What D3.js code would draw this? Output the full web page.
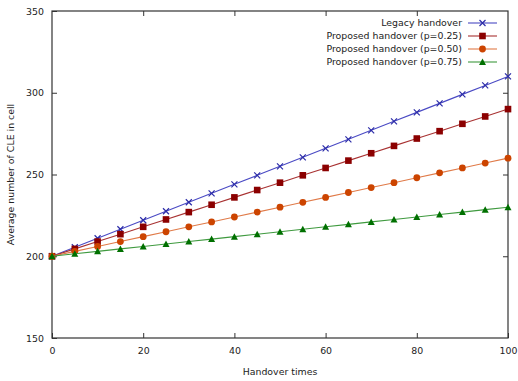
<!DOCTYPE html>
<html>
<head>
<meta charset="utf-8">
<script src="https://cdn.jsdelivr.net/npm/d3@7"></script>
<style>
  body { margin: 0; background: #fff; }
  text { font-family: "DejaVu Sans", sans-serif; font-size: 9.4px; fill: #222; }
</style>
</head>
<body>
<svg id="chart" width="518" height="381"></svg>
<script>
// handover times (x)
var handoverTimes = [0, 5, 10, 15, 20, 25, 30, 35, 40, 45, 50, 55, 60, 65, 70, 75, 80, 85, 90, 95, 100];

// average number of CLE
var legacy = [200, 205.5, 211, 216.5, 222, 227.5, 233, 238.5, 244, 249.5, 255, 260.5, 266, 271.5, 277, 282.5, 288, 293.5, 299, 304.5, 310];
var proposed25 = [200, 204.5, 209, 213.5, 218, 222.5, 227, 231.5, 236, 240.5, 245, 249.5, 254, 258.5, 263, 267.5, 272, 276.5, 281, 285.5, 290];
var proposed50 = [200, 203, 206, 209, 212, 215, 218, 221, 224, 227, 230, 233, 236, 239, 242, 245, 248, 251, 254, 257, 260];
var proposed75 = [200, 201.5, 203, 204.5, 206, 207.5, 209, 210.5, 212, 213.5, 215, 216.5, 218, 219.5, 221, 222.5, 224, 225.5, 227, 228.5, 230];

var seriesNames = ['Legacy handover', 'Proposed handover (p=0.25)', 'Proposed handover (p=0.50)', 'Proposed handover (p=0.75)'];
var xTicks = [0, 20, 40, 60, 80, 100];
var yTicks = [150, 200, 250, 300, 350];

// estilo de cada série
var styles = [
  { line: '#4a4ac4', mark: '#2c2ca8', shape: 'cross' },
  { line: '#a83232', mark: '#8b0000', shape: 'square' },
  { line: '#e07a48', mark: '#cc4400', shape: 'circle' },
  { line: '#3f9a3f', mark: '#007000', shape: 'triangle' }
];

var svg = d3.select('#chart');
var m = { left: 52, right: 10, top: 11, bottom: 43 };
var w = 518 - m.left - m.right;
var h = 381 - m.top - m.bottom;

var x = d3.scaleLinear().domain([0, 100]).range([0, w]);
var y = d3.scaleLinear().domain([150, 350]).range([h, 0]);

var g = svg.append('g').attr('transform', 'translate(' + m.left + ',' + m.top + ')');

// eixos com ticks para dentro (e espelhados)
var axisStyle = function (sel) {
  sel.select('.domain').remove();
  sel.selectAll('line').attr('stroke', '#333');
};
g.append('g').attr('transform', 'translate(0,' + h + ')')
  .call(d3.axisBottom(x).tickValues(xTicks).tickSizeInner(-5).tickSizeOuter(0).tickPadding(9))
  .call(axisStyle);
g.append('g')
  .call(d3.axisTop(x).tickValues(xTicks.slice(1, -1)).tickSizeInner(-5).tickSizeOuter(0).tickFormat(''))
  .call(axisStyle);
g.append('g')
  .call(d3.axisLeft(y).tickValues(yTicks).tickSizeInner(-5).tickSizeOuter(0).tickPadding(8))
  .call(axisStyle);
g.append('g').attr('transform', 'translate(' + w + ',0)')
  .call(d3.axisRight(y).tickValues(yTicks.slice(1, -1)).tickSizeInner(-5).tickSizeOuter(0).tickFormat(''))
  .call(axisStyle);
g.selectAll('.tick text').style('font-family', '"DejaVu Sans", sans-serif').style('font-size', '9.4px').attr('fill', '#222');

g.append('rect').attr('width', w).attr('height', h)
  .attr('fill', 'none').attr('stroke', '#333').attr('stroke-width', 1.2);

// marcadores
var drawMarker = function (sel, shape, color) {
  if (shape === 'cross') {
    sel.append('path').attr('d', 'M-3,-3L3,3M-3,3L3,-3').attr('stroke', color).attr('stroke-width', 1.2).attr('fill', 'none');
  } else if (shape === 'square') {
    sel.append('rect').attr('x', -3.3).attr('y', -3.3).attr('width', 6.6).attr('height', 6.6).attr('fill', color);
  } else if (shape === 'circle') {
    sel.append('circle').attr('r', 3.4).attr('fill', color);
  } else {
    sel.append('path').attr('d', 'M0,-3.5L3.5,3L-3.5,3Z').attr('fill', color);
  }
};

var allSeries = [legacy, proposed25, proposed50, proposed75];
var line = d3.line().x(function (d) { return x(d[0]); }).y(function (d) { return y(d[1]); });

allSeries.forEach(function (vals, i) {
  var pts = handoverTimes.map(function (t, k) { return [t, vals[k]]; });
  var st = styles[i];
  g.append('path').datum(pts).attr('d', line)
    .attr('fill', 'none').attr('stroke', st.line).attr('stroke-width', 1.1);
  pts.forEach(function (p) {
    var mk = g.append('g').attr('transform', 'translate(' + x(p[0]) + ',' + y(p[1]) + ')');
    drawMarker(mk, st.shape, st.mark);
  });
});

// legenda
var leg = svg.append('g').attr('transform', 'translate(462,23)');
seriesNames.forEach(function (name, i) {
  var row = leg.append('g').attr('transform', 'translate(0,' + (i * 13) + ')');
  row.append('text').attr('text-anchor', 'end').attr('dy', '0.35em').text(name);
  row.append('line').attr('x1', 6).attr('x2', 35).attr('stroke', styles[i].line).attr('stroke-width', 1.1);
  var mk = row.append('g').attr('transform', 'translate(20.5,0)');
  drawMarker(mk, styles[i].shape, styles[i].mark);
});

// títulos dos eixos
svg.append('text').attr('x', m.left + w / 2).attr('y', 375).attr('text-anchor', 'middle').text('Handover times');
svg.append('text').attr('transform', 'translate(14,' + (m.top + h / 2) + ') rotate(-90)')
  .attr('text-anchor', 'middle').text('Average number of CLE in cell');
</script>
</body>
</html>
